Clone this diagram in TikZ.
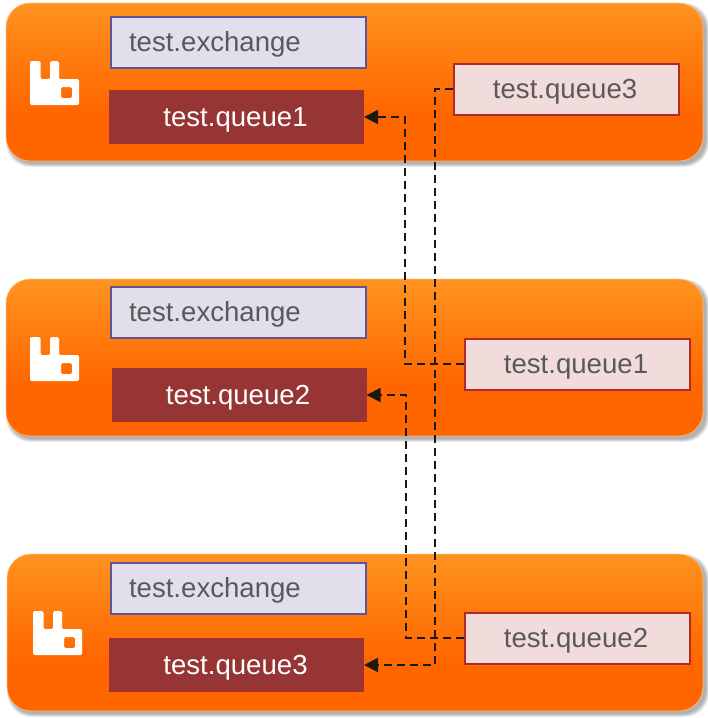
\documentclass[tikz,border=0pt]{standalone}
\usepackage{fontspec}
\setmainfont{Liberation Sans}
\usetikzlibrary{arrows.meta}
\definecolor{panelbot}{HTML}{FF6600}
\definecolor{paneltop}{HTML}{FF931F}
\definecolor{exfill}{HTML}{E3DEEB}
\definecolor{exline}{HTML}{5F5596}
\definecolor{qfill}{HTML}{963534}
\definecolor{qline}{HTML}{A92E2E}
\definecolor{rfill}{HTML}{F2DCDB}
\definecolor{rline}{HTML}{B02A2A}
\definecolor{txtgray}{HTML}{595959}
\definecolor{linkc}{HTML}{1A1A10}
\pgfdeclareverticalshading{panelshade}{100bp}{
  color(0bp)=(panelbot); color(25bp)=(panelbot); color(41bp)=(panelbot);
  color(75bp)=(paneltop); color(100bp)=(paneltop)}
\tikzset{
  x=1pt,y=-1pt,
  panelbox/.style={rounded corners=24pt,shading=panelshade,draw=orange!45!white,draw opacity=.7,line width=.8pt},
  basebox/.style={rectangle,anchor=north west,inner ysep=0pt,font=\fontsize{27.6}{30}\selectfont,text height=22pt,text depth=4pt},
  exbox/.style={basebox,fill=exfill,draw=exline,line width=2pt,text=txtgray,align=left,inner xsep=18pt,text width=219pt,minimum height=51pt},
  qbox/.style={basebox,fill=qfill,draw=qline,line width=1pt,text=white,align=center,inner xsep=0pt,minimum width=254pt,minimum height=53pt,execute at end node={\hspace*{2pt}}},
  rbox/.style={basebox,fill=rfill,draw=rline,line width=2pt,text=txtgray,align=center,inner xsep=0pt,minimum width=225pt,minimum height=51pt,execute at end node={\hspace*{2pt}}},
  link/.style={draw=linkc,line width=1.8pt,dash pattern=on 8pt off 5pt,-{Triangle[length=14pt,width=14pt,fill=linkc]}},
}
\newcommand{\panelat}[4]{%
  \foreach \k in {0,1,...,6}{
    \fill[black,opacity=.05,rounded corners=24pt] (#1+3-\k*.5,#2+3-\k*.5) rectangle (#3+3+\k*.5,#4+3+\k*.5);
  }
  \path[panelbox] (#1,#2) rectangle (#3,#4);
}
\newcommand{\rabbit}[2]{%
  \fill[white,even odd rule,rounded corners=1.5pt,shift={(#1,#2)}]
    (0,0) -- (10.5,0) -- (10.5,18) -- (20,18) -- (20,0) -- (29,0) -- (29,18) -- (49,18) -- (49,44) -- (0,44) -- cycle
    (31,26) -- (42,26) -- (42,37) -- (31,37) -- cycle;
}
\begin{document}
\begin{tikzpicture}
\useasboundingbox (0,0) rectangle (708,718);
\panelat{6}{3}{703}{161}
\panelat{6}{279}{703}{436}
\panelat{7}{554}{703}{711}
\rabbit{30}{61}
\rabbit{30}{337}
\rabbit{33}{611}

\node[exbox] (ex1) at (110,15.5) {test.exchange};
\node[qbox] (q1) at (109,90) {test.queue1};
\node[rbox] (r3) at (452.6,62.5) {test.queue3};

\node[exbox] (ex2) at (110,285.5) {test.exchange};
\node[qbox] (q2) at (111.5,368) {test.queue2};
\node[rbox] (r1) at (463.5,337.5) {test.queue1};

\node[exbox] (ex3) at (110,561.5) {test.exchange};
\node[qbox] (q3) at (109,638) {test.queue3};
\node[rbox] (r2) at (463.5,611.5) {test.queue2};

\coordinate (lane3) at (435,0);
\coordinate (lane1) at (405,0);
\coordinate (lane2) at (406,0);
\draw[link] (r3.west) -| (lane3 |- q3.east) -- (q3.east);
\draw[link] (r1.west) -| (lane1 |- q1.east) -- (q1.east);
\draw[link] (r2.west) -| (lane2 |- q2.east) -- (q2.east);
\end{tikzpicture}
\end{document}
